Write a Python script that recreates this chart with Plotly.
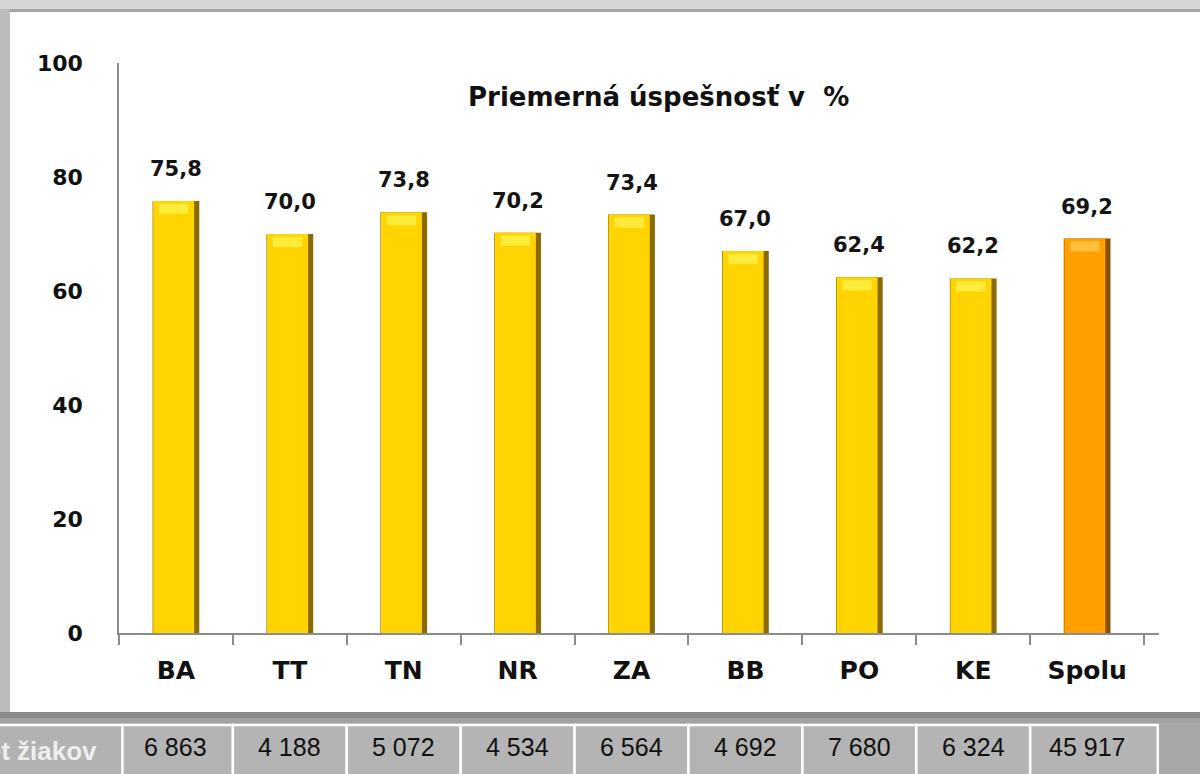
import plotly.graph_objects as go

# data
regions = ["BA", "TT", "TN", "NR", "ZA", "BB", "PO", "KE", "Spolu"]
uspesnost = [75.8, 70.0, 73.8, 70.2, 73.4, 67.0, 62.4, 62.2, 69.2]
pocet_ziakov = [6863, 4188, 5072, 4534, 6564, 4692, 7680, 6324, 45917]

title_txt = "Priemerná úspešnosť v  %"
row_label = "Počet žiakov"

W, H = 1200, 774
def px(x):
    return x / W
def py(y):
    return 1 - y / H

gold = "#FFD400"
gold_dark = "#8C6A00"
orange = "#FFA000"
orange_dark = "#8A4E00"

main_cols = [orange if r == "Spolu" else gold for r in regions]
edge_cols = [orange_dark if r == "Spolu" else gold_dark for r in regions]
cap_cols = ["#FFBE3C" if r == "Spolu" else "#FFEC3A" for r in regions]

fig = go.Figure()
# dark edge of the bevel (right side)
fig.add_trace(go.Bar(x=regions, y=uspesnost, width=0.41, offset=-0.205,
                     marker=dict(color=edge_cols, line=dict(width=0)),
                     hoverinfo="skip"))
# main face
fig.add_trace(go.Bar(x=regions, y=uspesnost, width=0.36, offset=-0.2,
                     marker=dict(color=main_cols, line=dict(width=0)),
                     name="Priemerná úspešnosť"))
# light cap on top
fig.add_trace(go.Bar(x=regions, y=[1.8] * len(regions),
                     base=[v - 2.3 for v in uspesnost],
                     width=0.26, offset=-0.15,
                     marker=dict(color=cap_cols, line=dict(width=0)),
                     hoverinfo="skip"))

font_main = "'DejaVu Sans', Verdana, sans-serif"
font_tab = "'Liberation Sans', Arial, sans-serif"

# value labels
for r, v in zip(regions, uspesnost):
    fig.add_annotation(x=r, y=v, yref="y", text=f"{v:.1f}".replace(".", ","),
                       showarrow=False, yshift=32,
                       font=dict(family=font_main, size=21, color="#141414", weight="bold"))

# title
fig.add_annotation(xref="paper", yref="paper", x=px(658), y=py(97), text=title_txt,
                   xanchor="center", yanchor="middle",
                   showarrow=False, font=dict(family=font_main, size=26, color="#111", weight="bold"))

shapes = []
# outer frame pieces
shapes.append(dict(type="rect", xref="paper", yref="paper", x0=0, x1=1, y0=py(9), y1=py(0),
                   fillcolor="#d6d6d6", line=dict(width=0), layer="below"))
shapes.append(dict(type="rect", xref="paper", yref="paper", x0=0, x1=1, y0=py(12), y1=py(9),
                   fillcolor="#a4a4a4", line=dict(width=0), layer="below"))
shapes.append(dict(type="rect", xref="paper", yref="paper", x0=0, x1=px(10), y0=py(722), y1=py(9),
                   fillcolor="#bcbcbc", line=dict(width=0), layer="below"))
# white chart panel
shapes.append(dict(type="rect", xref="paper", yref="paper", x0=px(10), x1=1.01, y0=py(712), y1=py(12),
                   fillcolor="white", line=dict(width=0), layer="below"))
# shadow under panel
shapes.append(dict(type="rect", xref="paper", yref="paper", x0=0, x1=1, y0=py(718), y1=py(712),
                   fillcolor="#8a8a8a", line=dict(width=0), layer="below"))
shapes.append(dict(type="rect", xref="paper", yref="paper", x0=0, x1=1, y0=py(723), y1=py(718),
                   fillcolor="#a2a2a2", line=dict(width=0), layer="below"))
# table: first cell with row label
shapes.append(dict(type="rect", xref="paper", yref="paper", x0=-0.01, x1=px(123), y0=-0.01, y1=py(725),
                   fillcolor="#b2b2b2", line=dict(color="white", width=2.5), layer="below"))
# table cells aligned with categories
for i in range(len(regions)):
    shapes.append(dict(type="rect", xref="x", yref="paper", x0=i - 0.5 + (0.03 if i == 0 else 0),
                       x1=i + 0.5 + (0.12 if i == len(regions) - 1 else 0),
                       y0=-0.01, y1=py(725),
                       fillcolor="#b4b4b4", line=dict(color="white", width=2.5), layer="below"))

fig.add_annotation(xref="paper", yref="paper", x=px(99), y=py(751), xanchor="right", yanchor="middle",
                   text=row_label, showarrow=False,
                   font=dict(family=font_tab, size=26, color="#eeeeee", weight="bold"))
for r, n in zip(regions, pocet_ziakov):
    fig.add_annotation(x=r, xref="x", yref="paper", y=py(747), xanchor="center", yanchor="middle",
                       text=f"{n:,}".replace(",", " "), showarrow=False,
                       font=dict(family=font_tab, size=25, color="#111"))

fig.update_layout(
    width=W, height=H,
    margin=dict(l=0, r=0, t=0, b=0, autoexpand=False),
    paper_bgcolor="#a8a8a8",
    plot_bgcolor="rgba(0,0,0,0)",
    barmode="overlay",
    showlegend=False,
    shapes=shapes,
    xaxis=dict(domain=[px(119), px(1159)], showgrid=False, showline=True, automargin=False,
               linecolor="#8c8c8c", linewidth=1.5, ticks="outside", tickson="boundaries",
               ticklen=10, tickcolor="#8c8c8c", tickwidth=1.5, ticklabelstandoff=14,
               tickfont=dict(family=font_main, size=25, color="#111", weight="bold"),
               fixedrange=True),
    yaxis=dict(domain=[py(633), py(63)], range=[0, 100], dtick=20, showgrid=False,
               showline=True, linecolor="#8c8c8c", linewidth=1.5, ticks="", automargin=False,
               zeroline=False, ticklabelstandoff=30,
               tickfont=dict(family=font_main, size=22, color="#111", weight="bold"),
               fixedrange=True),
)

# the page body has a default margin, remove it so the figure fills the window
fig.write_html("out.html", config={"displayModeBar": False},
               post_script="document.body.style.margin='0';document.body.style.overflow='hidden';")
